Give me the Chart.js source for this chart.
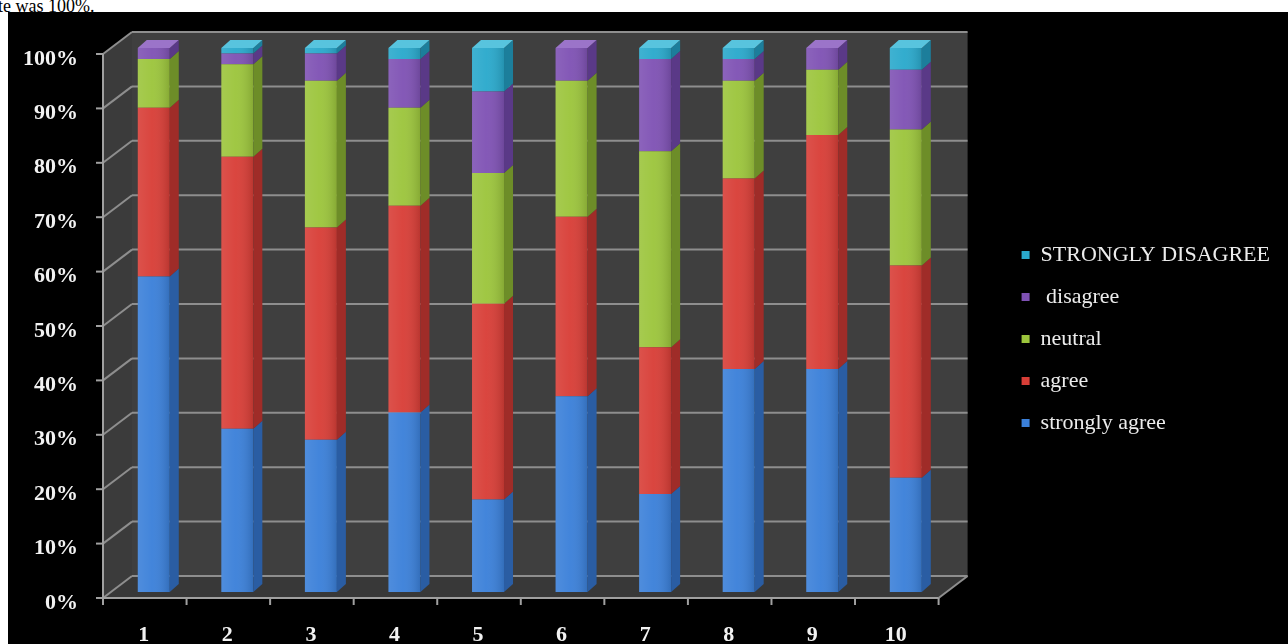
<!DOCTYPE html>
<html><head><meta charset="utf-8">
<script src="https://cdn.jsdelivr.net/npm/chart.js@4.4.1/dist/chart.umd.min.js"></script>
<style>
html,body{margin:0;padding:0;background:#fff;overflow:hidden;width:1288px;height:644px;position:relative}
#cap{position:absolute;left:-2px;top:-3px;font:18px "Liberation Serif",serif;color:#000;white-space:nowrap;line-height:18px}
#wrap{position:absolute;left:8px;top:12px;width:1272px;height:632px;background:#000}
#bg{position:absolute;left:8px;top:12px;width:1280px;height:632px;background:#000}
</style></head><body>
<div id="cap">te was 100%.</div>
<div id="bg"></div>
<div id="wrap"><canvas id="c"></canvas></div>
<script>
// ---- data ----
const categories = ['1','2','3','4','5','6','7','8','9','10'];
const seriesNames = ['strongly agree','agree','neutral',' disagree','STRONGLY DISAGREE'];
const stronglyAgree    = [58,30,28,33,17,36,18,41,41,21];
const agree            = [31,50,39,38,36,33,27,35,43,39];
const neutral          = [ 9,17,27,18,24,25,36,18,12,25];
const disagree         = [ 2, 2, 5, 9,15, 6,17, 4, 4,11];
const stronglyDisagree = [ 0, 1, 1, 2, 8, 0, 2, 2, 0, 4];
const yTicks = [0,10,20,30,40,50,60,70,80,90,100];

// ---- styles ----
const frontColors = ['#3b80d9','#d83e37','#9cc53c','#7f52b4','#2aa9cc'];
const sideColors  = ['#2a5da3','#9f2c28','#6d8d28','#5a3987','#1c7e9b'];
const topColors   = ['#5d9be6','#e96c64','#b9dd5e','#9b74c9','#58c4de'];
const serif = '"Liberation Serif","Times New Roman",serif';

const seriesValues = [stronglyAgree, agree, neutral, disagree, stronglyDisagree];

// 3D offsets relative to the bar plane
const BACK = {dx: 20, dy: -16};
const FRONT = {dx: -9, dy: 6};
const DEPTH = {dx: 9, dy: 8};

function poly(ctx, pts, fill){
  ctx.beginPath();
  ctx.moveTo(pts[0][0], pts[0][1]);
  for (let i=1;i<pts.length;i++) ctx.lineTo(pts[i][0], pts[i][1]);
  ctx.closePath();
  ctx.fillStyle = fill; ctx.fill();
}
function seg(ctx, x1,y1,x2,y2){ ctx.beginPath(); ctx.moveTo(x1,y1); ctx.lineTo(x2,y2); ctx.stroke(); }

const scene3d = {
  id: 'scene3d',
  beforeDatasetsDraw(chart){
    const {ctx, chartArea:a, scales:{x, y}} = chart;
    const y0 = y.getPixelForValue(0), y100 = y.getPixelForValue(100);
    const w = a.right - a.left;
    ctx.save();
    ctx.fillStyle = '#3f3f3f';
    ctx.fillRect(a.left+BACK.dx, y100+BACK.dy, w, y0-y100);
    poly(ctx, [[a.left+FRONT.dx, y100+FRONT.dy],[a.left+BACK.dx, y100+BACK.dy],[a.left+BACK.dx, y0+BACK.dy],[a.left+FRONT.dx, y0+FRONT.dy]], '#3b3b3b');
    poly(ctx, [[a.left+FRONT.dx, y0+FRONT.dy],[a.left+BACK.dx, y0+BACK.dy],[a.right+BACK.dx, y0+BACK.dy],[a.right+FRONT.dx, y0+FRONT.dy]], '#383838');
    ctx.strokeStyle = '#8e8e8e'; ctx.lineWidth = 2;
    yTicks.forEach(v => {
      const py = y.getPixelForValue(v);
      seg(ctx, a.left+BACK.dx, py+BACK.dy, a.right+BACK.dx, py+BACK.dy);
      seg(ctx, a.left+FRONT.dx, py+FRONT.dy, a.left+BACK.dx, py+BACK.dy);
    });
    seg(ctx, a.right+FRONT.dx, y0+FRONT.dy, a.right+BACK.dx, y0+BACK.dy);
    ctx.strokeStyle = '#a0a0a0'; ctx.lineWidth = 2;
    seg(ctx, a.left+FRONT.dx, y100+FRONT.dy, a.left+FRONT.dx, y0+FRONT.dy);
    seg(ctx, a.left+FRONT.dx, y0+FRONT.dy, a.right+FRONT.dx, y0+FRONT.dy);
    yTicks.forEach(v => {
      const py = y.getPixelForValue(v);
      seg(ctx, a.left+FRONT.dx-7, py+FRONT.dy, a.left+FRONT.dx, py+FRONT.dy);
    });
    const cw = w / categories.length;
    for (let i=0;i<=categories.length;i++){
      const px = (i < categories.length ? x.getPixelForValue(i) - cw/2 : x.getPixelForValue(i-1) + cw/2) + FRONT.dx;
      seg(ctx, px, y0+FRONT.dy, px, y0+FRONT.dy+7);
    }
    ctx.restore();
  },
  afterDatasetsDraw(chart){
    const {ctx} = chart;
    const n = categories.length;
    const topIdx = [];
    for (let j=0;j<n;j++){
      let t = -1;
      seriesValues.forEach((arr,i)=>{ if (arr[j] > 0) t = i; });
      topIdx.push(t);
    }
    ctx.save();
    seriesValues.forEach((arr, i) => {
      const meta = chart.getDatasetMeta(i);
      meta.data.forEach((el, j) => {
        if (!(arr[j] > 0)) return;
        const {x, y, base, width} = el.getProps(['x','y','base','width'], true);
        const l = x - width/2, r = x + width/2;
        const g = ctx.createLinearGradient(l, 0, r, 0);
        g.addColorStop(0, 'rgba(255,255,255,0.10)');
        g.addColorStop(0.45, 'rgba(255,255,255,0.04)');
        g.addColorStop(1, 'rgba(0,0,0,0.14)');
        ctx.fillStyle = g;
        ctx.fillRect(l, y, width, base - y);
        poly(ctx, [[r, y],[r+DEPTH.dx, y-DEPTH.dy],[r+DEPTH.dx, base-DEPTH.dy],[r, base]], sideColors[i]);
        if (topIdx[j] === i){
          poly(ctx, [[l, y],[l+DEPTH.dx, y-DEPTH.dy],[r+DEPTH.dx, y-DEPTH.dy],[r, y]], topColors[i]);
        }
      });
    });
    ctx.restore();
  }
};

const datasets = seriesNames.map((name, i) => ({
  label: name,
  data: seriesValues[i],
  backgroundColor: frontColors[i],
  borderWidth: 0,
  barPercentage: 0.383,
  categoryPercentage: 1.0,
  xAxisID: 'x',
  yAxisID: 'y'
}));

const tickFont = {family: serif, size: 22, weight: 'bold'};

new Chart(document.getElementById('c'), {
  type: 'bar',
  data: {labels: categories, datasets},
  plugins: [scene3d],
  options: {
    responsive: true,
    maintainAspectRatio: false,
    animation: false,
    events: [],
    layout: {padding: {top: 36, bottom: 0, left: 0, right: 0}},
    scales: {
      x: {
        stacked: true,
        grid: {display: false, drawTicks: false},
        border: {display: false},
        ticks: {color: '#f2f2f2', font: tickFont, padding: 30, labelOffset: -10, maxRotation: 0, autoSkip: false},
        afterFit(s){ s.height = 52; s.paddingLeft = 0; s.paddingRight = 0; }
      },
      y: {
        stacked: true, min: 0, max: 100,
        grid: {display: false, drawTicks: false},
        border: {display: false},
        ticks: {stepSize: 10, color: '#f2f2f2', font: tickFont, padding: 34, labelOffset: 11,
                callback: v => v + '%'},
        afterFit(s){ s.width = 104; s.paddingTop = 0; s.paddingBottom = 0; }
      },
      gap: {
        type: 'linear', position: 'right', display: true,
        grid: {display: false, drawTicks: false},
        border: {display: false},
        ticks: {display: false},
        afterFit(s){ s.width = 54; }
      }
    },
    plugins: {
      tooltip: {enabled: false},
      legend: {
        position: 'right',
        fullSize: false,
        reverse: true,
        maxWidth: 400,
        title: {display: true, text: '', font: {size: 10}, padding: {top: 13, bottom: 13}},
        labels: {
          boxWidth: 8, boxHeight: 8, padding: 20,
          color: '#ececec',
          font: {family: serif, size: 22},
          generateLabels(chart){
            const items = Chart.defaults.plugins.legend.labels.generateLabels(chart);
            items.forEach(it => {
              it.fillStyle = frontColors[it.datasetIndex];
              it.strokeStyle = 'rgba(0,0,0,0)';
              it.lineWidth = 0;
              it.fontColor = '#ececec';
            });
            return items;
          }
        }
      }
    }
  }
});
</script>
</body></html>
